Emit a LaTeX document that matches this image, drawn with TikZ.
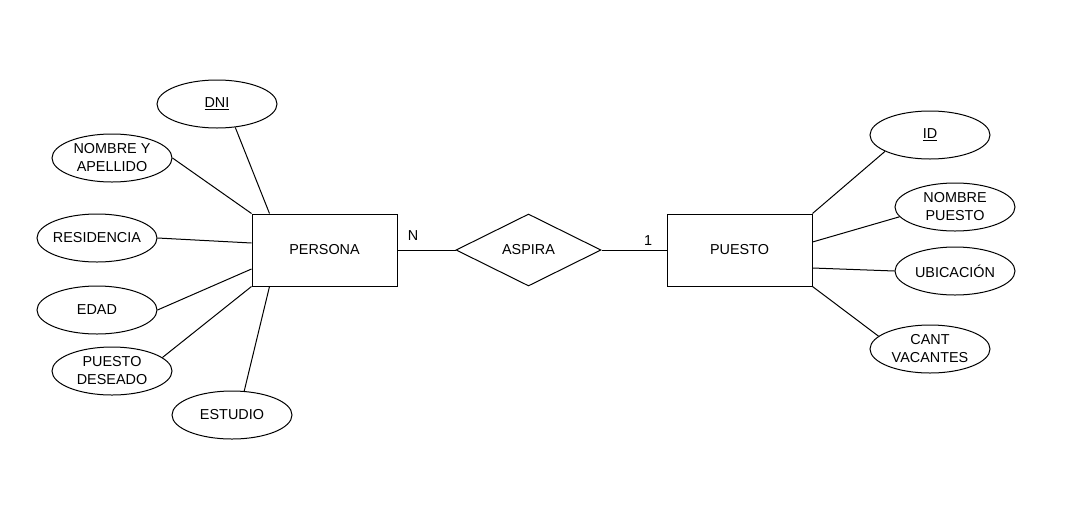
\documentclass[tikz,border=0pt]{standalone}
\usepackage{fontspec}
\setmainfont{Liberation Sans}
\usetikzlibrary{shapes.geometric}
\begin{document}
\begin{tikzpicture}[x=1pt,y=-1pt,
  every node/.style={font=\fontsize{14.4}{18}\selectfont},
  lbl/.style={inner sep=0pt, align=center},
  attr/.style={ellipse, draw, line width=1pt, fill=white, minimum width=120pt, minimum height=48pt, inner sep=0pt},
  entity/.style={rectangle, draw, line width=1pt, fill=white, minimum width=145pt, minimum height=72pt, inner sep=0pt},
  rel/.style={diamond, draw, line width=1pt, fill=white, minimum width=145pt, minimum height=72pt, inner sep=0pt, aspect=2},
  link/.style={line width=1pt},
  card/.style={inner sep=0pt}]
\useasboundingbox[fill=white] (0,0) rectangle (1071,512);

% entities and relationship
\node[entity] (persona) at (324.5,250) {PERSONA};
\node[entity] (puesto) at (739.5,250) {PUESTO};
\node[rel] (aspira) at (528.5,250) {ASPIRA};

% attributes of PERSONA
\node[attr, label={[lbl]center:\underline{DNI}}] (dni) at (217,104) {};
\node[attr, label={[lbl]center:NOMBRE Y\\APELLIDO}] (nya) at (112,158) {};
\node[attr, label={[lbl]center:RESIDENCIA}] (res) at (97,238) {};
\node[attr, label={[lbl]center:EDAD}] (edad) at (97,310) {};
\node[attr, label={[lbl]center:PUESTO\\DESEADO}] (pd) at (112,371) {};
\node[attr, label={[lbl]center:ESTUDIO}] (est) at (232,415) {};

% attributes of PUESTO
\node[attr, label={[lbl]center:\underline{ID}}] (id) at (930,135) {};
\node[attr, label={[lbl]center:NOMBRE\\PUESTO}] (np) at (955,207) {};
\node[attr, label={[lbl]center:UBICACIÓN}] (ub) at (955,271) {};
\node[attr, label={[lbl]center:CANT\\VACANTES}] (cv) at (930,349) {};

% cardinalities
\node[card] (cn) at (413,236) {N};
\node[card] (c1) at (648,241) {1};

% connectors
\draw[link] (persona.east) -- (aspira.west);
\draw[link] (aspira.east) -- (puesto.west);

\draw[link] (dni.-52) -- ([xshift=18pt]persona.north west);
\draw[link] (nya.east) -- (persona.north west);
\draw[link] (res.east) -- ([yshift=7pt]persona.west);
\draw[link] (edad.east) -- ([yshift=-19pt]persona.west);
\draw[link] (pd.15) -- (persona.south west);
\draw[link] (est.63) -- ([xshift=18pt]persona.south west);

\draw[link] (id.200) -- (puesto.north east);
\draw[link] (np.190) -- ([yshift=8pt]puesto.east);
\draw[link] (ub.west) -- ([yshift=-18pt]puesto.east);
\draw[link] (cv.166) -- (puesto.south east);
\end{tikzpicture}
\end{document}
